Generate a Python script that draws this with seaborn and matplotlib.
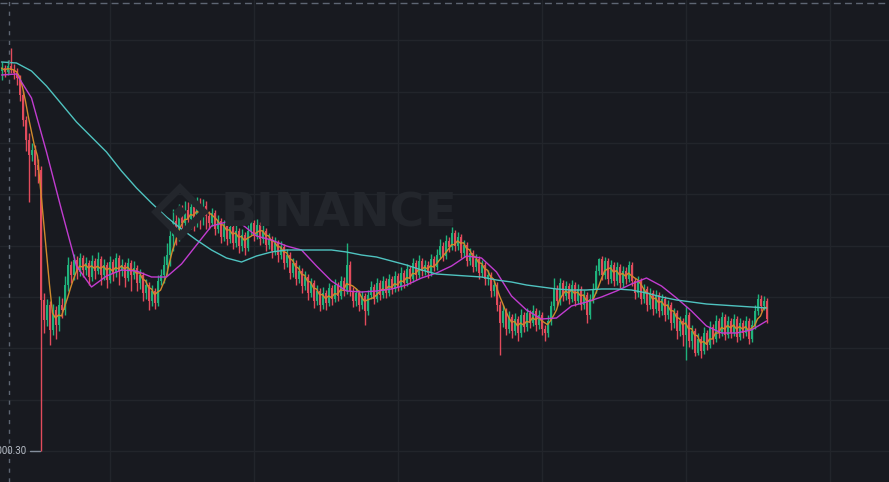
import numpy as np
import pandas as pd
import matplotlib
matplotlib.use("Agg")
import matplotlib.pyplot as plt
import seaborn as sns
from matplotlib.patches import Polygon

# ---------------- data (prices) ----------------
first_open = 1380
close = [1383,1379,1385,1381,1378,1373,1356,1331,1311,1296,
         1301,1286,1281,1151,
         1131,1146,1121,1141,1126,1146,1141,1166,
         1186,1176,1191,1179,1193,1181,1188,1174,1190,1180,1192,1176,1186,1171,1189,1178,1193,1180,1186,1173,1188,1176,1183,
         1168,1176,1158,1166,1150,1160,1148,1170,1176,
         1186,1196,1215,1230,1220,1238,1228,1241,1232,1244,1233,1248,1236,1245,1235,
         1228,1238,1222,1230,1214,1226,1212,1224,1208,1220,1205,1216,1203,1220,1228,1215,1226,1212,1220,1206,1212,1200,1208,
         1196,1204,1188,1196,1178,1188,1172,1180,1165,1174,1158,1168,1150,1160,1146,1158,1148,1163,1152,1166,1155,1170,1160,1186,
         1160,1150,1158,1146,1155,1140,1156,1164,1152,1168,1156,1170,1158,1172,1162,1175,1164,
         1178,1168,1182,1172,1188,1176,1190,1180,1186,1178,1192,1184,1196,1205,1195,1210,1204,1218,
         1205,1214,1198,1206,1190,1198,1184,1192,1178,1186,1172,1176,1160,1166,1146,
         1128,1140,1122,1134,1120,1132,1118,1136,1124,1138,1128,1140,1126,1136,1122,1118,1130,
         1145,1162,1150,1168,1155,1165,1152,1166,1150,1162,1146,1156,1136,1152,1162,1180,
         1192,1176,1190,1172,1186,1170,1184,1168,1180,1172,1186,1170,
         1158,1170,1152,1162,1146,1158,1142,1156,1140,1152,1136,1146,1128,1138,1120,1130,1116,
         1136,1110,1120,1098,1112,1100,1118,1106,1124,1112,1130,1118,1134,1116,1130,1118,1132,1114,1128,1118,1130,1112,1126,
         1140,1152,1145,1150,1132]
high = [1389,1386,1391,1403,1387,1383,1376,1360,1335,1318,
        1308,1306,1292,1285,
        1158,1152,1150,1147,1145,1155,1153,1175,
        1194,1190,1197,1195,1198,1196,1194,1191,1196,1193,1199,1195,1192,1189,1195,1192,1198,1196,1192,1189,1193,1191,1190,
        1186,1182,1179,1172,1169,1166,1163,1176,1182,
        1195,1208,1228,1242,1240,1247,1246,1250,1249,1252,1251,1254,1253,1252,1250,
        1240,1243,1241,1236,1233,1231,1229,1230,1227,1226,1223,1222,1219,1226,1234,1231,1232,1229,1226,1223,1218,1215,1214,
        1211,1210,1207,1202,1199,1193,1191,1186,1183,1180,1177,1173,1171,1166,1163,1164,1161,1168,1166,1172,1169,1175,1174,1208,
        1190,1164,1163,1161,1160,1158,1161,1170,1167,1173,1171,1175,1173,1177,1175,1180,1178,
        1184,1181,1187,1185,1193,1191,1196,1193,1191,1190,1197,1195,1202,1212,1209,1216,1214,1224,
        1221,1219,1217,1211,1209,1203,1201,1197,1195,1191,1189,1181,1179,1171,1169,
        1150,1146,1143,1140,1137,1138,1135,1142,1139,1143,1141,1146,1143,1141,1139,1126,1136,
        1150,1173,1166,1173,1171,1170,1168,1171,1169,1167,1165,1161,1159,1157,1168,1186,
        1193,1195,1194,1193,1191,1189,1189,1187,1185,1184,1190,1189,
        1173,1175,1173,1167,1165,1163,1161,1161,1159,1157,1155,1151,1149,1143,1141,1135,1133,
        1145,1139,1126,1123,1118,1115,1124,1121,1130,1127,1136,1133,1139,1137,1135,1133,1137,1135,1133,1131,1135,1133,1131,
        1146,1157,1156,1155,1153]
low = [1371,1374,1376,1378,1372,1366,1350,1325,1300,1249,
       1290,1275,1268,1000.3,
       1118,1125,1106,1116,1112,1120,1133,1136,
       1160,1168,1171,1172,1175,1174,1176,1166,1170,1172,1177,1166,1171,1163,1168,1170,1174,1166,1175,1164,1170,1160,1172,
       1160,1162,1150,1152,1141,1145,1142,1145,1166,
       1168,1176,1185,1200,1206,1210,1214,1218,1220,1222,1220,1224,1222,1226,1222,
       1222,1225,1216,1218,1208,1210,1206,1208,1202,1204,1198,1200,1196,1200,1216,1210,1212,1206,1208,1200,1202,1193,1196,
       1189,1192,1182,1184,1172,1174,1166,1168,1158,1161,1151,1154,1143,1146,1140,1142,1141,1145,1146,1149,1150,1152,1155,1157,
       1155,1144,1145,1140,1142,1126,1136,1152,1147,1149,1151,1153,1153,1155,1157,1159,1160,
       1161,1163,1165,1167,1169,1171,1173,1175,1176,1173,1175,1180,1181,1192,1190,1192,1199,1201,
       1200,1201,1193,1194,1185,1186,1179,1180,1172,1174,1166,1166,1154,1155,1140,
       1096,1124,1116,1118,1113,1116,1110,1114,1119,1120,1123,1125,1120,1122,1116,1110,1114,
       1126,1141,1145,1146,1150,1151,1147,1149,1145,1147,1141,1142,1128,1132,1148,1158,
       1176,1171,1172,1167,1168,1165,1166,1163,1164,1167,1169,1165,
       1152,1154,1147,1148,1140,1142,1136,1138,1134,1136,1130,1132,1121,1123,1112,1115,1105,
       1091,1104,1102,1095,1096,1093,1097,1101,1103,1107,1109,1113,1115,1111,1113,1113,1115,1109,1111,1113,1115,1107,1109,
       1122,1136,1140,1141,1128]

# slow (cyan) and mid (magenta) moving averages, read every 5 candles
ma_step = 5
ma_slow = [1389,1388,1380,1365,1347,1329,1314,1299,1280,1263,
           1248,1234,1222,1211,1201,1193,1189,1195,1199,1201,
           1201,1201,1201,1199,1196,1194,1190,1186,1181,1177,
           1176,1175,1174,1171,1169,1166,1164,1162,1161,1161,
           1162,1162,1161,1158,1154,1151,1149,1147,1146,1145,
           1144,1143]
ma_mid = [1376,1377,1353,1299,1241,1185,1164,1175,1181,1180,
          1174,1174,1187,1206,1225,1229,1227,1215,1211,1205,
          1201,1185,1170,1160,1159,1160,1162,1166,1173,1178,
          1185,1195,1193,1179,1155,1141,1132,1133,1145,1149,
          1154,1160,1167,1173,1165,1153,1140,1125,1118,1118,
          1121,1130]
fast_window = 5
low_label = "1000.30"

# ---------------- style ----------------
BG = "#181a20"
GRID = "#22252b"
UP = "#1fb27c"
DOWN = "#e24b5c"
C_FAST = "#d08a2c"
C_MID = "#c13cd0"
C_SLOW = "#4fc3c0"
WM = "#23262c"

sns.set_theme(style="dark", rc={"axes.facecolor": BG, "figure.facecolor": BG})

W, H = 889, 482
fig = plt.figure(figsize=(W / 100, H / 100), dpi=100)
ax = fig.add_axes([0, 0, 1, 1])
ax.set_facecolor(BG)

n = len(close)
idx = np.arange(n)
c = np.array(close, dtype=float)
o = np.concatenate([[first_open], c[:-1]])
hi = np.array(high, dtype=float)
lo = np.array(low, dtype=float)
cols = [UP if cc >= oo else DOWN for oo, cc in zip(o, c)]

# axes: one candle every 3 px
ax.set_xlim(-0.5, (W - 1.5) / 3)
ax.set_ylim(969, 1451)

# grid
ax.set_xticks([36, 84, 132, 180, 228, 276])
ax.set_yticks(1000 + 51.35 * np.arange(0, 9))
ax.grid(True, color=GRID, linewidth=1.0)
ax.tick_params(length=0, labelbottom=False, labelleft=False)
for s in ax.spines.values():
    s.set_visible(False)

# watermark
def fx(px):
    return px / W
def fy(py):
    return 1 - py / H

fig.text(fx(221), fy(214), "BINANCE", fontsize=34, fontweight="bold",
         color=WM, va="center", ha="left", zorder=0)
cx, cy, r = 180, 212, 24
outer = Polygon([(fx(cx - r), fy(cy)), (fx(cx), fy(cy - r)), (fx(cx + r), fy(cy)),
                 (fx(cx), fy(cy + r))], closed=True, transform=fig.transFigure,
                fill=False, edgecolor=WM, linewidth=5, zorder=0)
fig.patches.append(outer)
ri = 7
inner = Polygon([(fx(cx - ri), fy(cy)), (fx(cx), fy(cy - ri)), (fx(cx + ri), fy(cy)),
                 (fx(cx), fy(cy + ri))], closed=True, transform=fig.transFigure,
                facecolor=WM, edgecolor="none", zorder=0)
fig.patches.append(inner)

# candles
ax.vlines(idx, lo, hi, colors=cols, linewidth=1.0, zorder=2)
body_h = np.maximum(np.abs(c - o), 0.8)
ax.bar(idx, body_h, bottom=np.minimum(o, c), width=0.62, color=cols,
       linewidth=0, zorder=3)

# moving averages
fast = pd.Series(c).rolling(fast_window, min_periods=1).mean()
sns.lineplot(x=idx, y=fast.values, ax=ax, color=C_FAST, linewidth=1.0, zorder=4)
ma_x = np.arange(0, n, ma_step)
sns.lineplot(x=ma_x, y=ma_mid, ax=ax, color=C_MID, linewidth=1.0, zorder=4)
sns.lineplot(x=ma_x, y=ma_slow, ax=ax, color=C_SLOW, linewidth=1.0, zorder=4)

# dashed guides
ax.axhline(1451 - 3, color="#5e6673", linewidth=1.0, dashes=(5, 3), zorder=5)
ax.axvline((9 - 1.5) / 3, color="#5e6673", linewidth=1.0, dashes=(3, 4), zorder=5)

# low price marker
low_i = int(np.argmin(lo))
ax.plot([low_i - 3.4, low_i - 0.3], [lo[low_i], lo[low_i]], color="#848e9c",
        linewidth=1.0, zorder=1)
ax.text(low_i - 4.6, lo[low_i], low_label, color="#b7bdc6", fontsize=7,
        family=["Roboto", "DejaVu Sans"], ha="right", va="center", zorder=6)

fig.savefig("out.png", dpi=100, facecolor=BG)
